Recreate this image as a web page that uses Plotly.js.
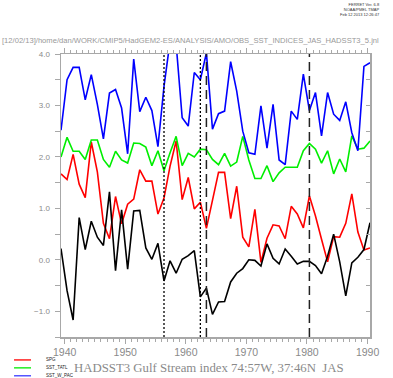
<!DOCTYPE html>
<html><head><meta charset="utf-8">
<script src="https://cdn.plot.ly/plotly-3.0.1.min.js"></script>
<style>html,body{margin:0;padding:0;background:#fff}#chart{width:393px;height:378px}</style>
</head><body><div id="chart"></div>
<script>
// Years of the JAS (Jul-Aug-Sep) seasonal values
const years = [1939,1940,1941,1942,1943,1944,1945,1946,1947,1948,1949,1950,1951,1952,1953,1954,1955,1956,1957,1958,1959,
  1960,1961,1962,1963,1964,1965,1966,1967,1968,1969,1970,1971,1972,1973,1974,1975,1976,1977,1978,1979,
  1980,1981,1982,1983,1984,1985,1986,1987,1988,1989,1990];
// Decimal-time position of each seasonal value on the time axis (season offset within the year)
const seasonOffset = 0.4;

const spg = [1.67,1.56,2.05,1.47,1.21,2.29,1.71,0.71,0.41,1.23,0.70,1.08,1.18,1.75,1.53,1.53,0.89,1.20,1.82,2.31,
  1.17,1.60,0.99,1.12,0.61,1.16,1.70,1.70,0.80,1.43,0.44,0.25,0.98,-0.05,0.42,0.68,0.66,0.41,1.04,0.89,
  0.62,1.24,0.85,0.40,-0.04,0.45,0.44,0.71,1.28,0.54,0.19,0.23];
const sstTatl = [2.00,2.38,2.11,2.11,1.95,2.33,2.33,1.95,1.80,2.11,1.94,1.88,2.27,2.26,2.19,1.83,2.12,1.73,2.08,2.40,
  1.83,2.07,2.00,2.15,2.14,1.95,1.85,2.07,1.82,1.90,2.40,1.94,1.58,1.58,1.83,1.52,1.69,1.80,1.80,1.80,
  2.12,2.26,2.15,1.88,2.12,1.67,1.96,1.71,2.41,2.15,2.17,2.31];
const sstWPac = [2.52,3.50,3.74,3.74,3.11,3.60,3.02,2.35,3.24,3.31,2.95,2.06,3.90,2.88,3.16,2.90,2.20,3.37,4.25,4.20,
  2.76,2.60,3.64,3.50,4.02,2.54,2.84,2.89,3.85,3.28,2.50,2.08,2.05,2.99,2.17,3.02,1.94,1.85,2.89,2.73,
  3.61,2.90,3.25,2.41,3.25,2.83,2.71,3.07,2.47,2.12,3.76,3.83];
const gsIndex = [0.22,-0.60,-1.17,0.82,0.20,0.75,0.44,0.28,1.32,-0.21,0.97,-0.18,0.95,0.96,0.23,0.01,0.32,-0.41,-0.02,-0.26,
  0.01,0.08,0.18,-0.72,-0.55,-1.06,-0.82,-0.81,-0.43,-0.26,-0.17,0.00,-0.01,-0.12,0.31,0.03,-0.08,0.21,0.07,-0.08,
  -0.03,-0.03,-0.11,-0.27,0.07,0.50,-0.04,-0.70,-0.06,0.05,0.20,0.72];

const dottedYears = [1956, 1962];
const dashedYears = [1963, 1980];
const xTickVals = [1940,1950,1960,1970,1980,1990];
const legendNames = ['SPG','SST_TATL','SST_W_PAC'];
const legendColors = ['#ff2020','#22ee22','#5555ff'];

const t = years.map(y => y + seasonOffset);
const axisGray = '#a8a8a8';
const textGray = '#8a8a8a';

function series(y, color) {
  return {x: t, y: y, type: 'scatter', mode: 'lines', line: {color: color, width: 1.6}, hoverinfo: 'skip'};
}
const traces = [
  series(spg, '#ff0000'),
  series(sstTatl, '#00ee00'),
  series(sstWPac, '#0000ff'),
  series(gsIndex, '#000000'),
  {x: [], y: [], yaxis: 'y2', type: 'scatter', mode: 'lines'}
];

const shapes = [];
dottedYears.forEach(y => shapes.push({type:'line', xref:'x', yref:'paper', x0:y+seasonOffset, x1:y+seasonOffset, y0:0, y1:1,
  line:{color:'#000', width:1.3, dash:'2px,2px'}}));
dashedYears.forEach(y => shapes.push({type:'line', xref:'x', yref:'paper', x0:y+seasonOffset, x1:y+seasonOffset, y0:0, y1:1,
  line:{color:'#222', width:1.5, dash:'9px,5px'}}));

const legY = [-0.081, -0.109, -0.137];
const annotations = [];
legendNames.forEach((n, i) => {
  shapes.push({type:'line', xref:'paper', yref:'paper', x0:-0.152, x1:-0.097, y0:legY[i], y1:legY[i],
    line:{color:legendColors[i], width:1.5}});
  annotations.push({xref:'paper', yref:'paper', x:-0.055, y:legY[i], xanchor:'left', yanchor:'middle',
    text:n, showarrow:false, font:{family:'Liberation Sans, Arial', size:4.5, color:'#222'}});
});
annotations.push({xref:'paper', yref:'paper', x:0.034, y:-0.111, xanchor:'left', yanchor:'middle', showarrow:false,
  text:'HADSST3 Gulf Stream index 74:57W, 37:46N\u00a0\u00a0JAS',
  font:{family:'Liberation Serif, Times New Roman, serif', size:12.8, color:textGray}});
annotations.push({xref:'paper', yref:'paper', x:-0.197, y:1.046, xanchor:'left', yanchor:'middle', showarrow:false,
  text:'[12/02/13]/home/dan/WORK/CMIP5/HadGEM2-ES/ANALYSIS/AMO/OBS_SST_INDICES_JAS_HADSST3_5.jnl',
  font:{family:'Liberation Sans, Arial', size:7.6, color:'#999'}});
annotations.push({xref:'paper', yref:'paper', x:1.04, y:1.19, xanchor:'right', yanchor:'top', showarrow:false, align:'right',
  text:'FERRET Ver. 6.8<br>NOAA/PMEL TMAP<br>Feb 12 2013 12:26:47',
  font:{family:'Liberation Sans, Arial', size:4, color:'#333'}});

const layout = {
  width: 393, height: 378,
  margin: {l: 61, r: 23, t: 54, b: 41, pad: 0},
  paper_bgcolor: '#fff', plot_bgcolor: '#fff',
  showlegend: false,
  xaxis: {
    range: [1939 + seasonOffset, 1990 + seasonOffset], tickvals: xTickVals, ticktext: xTickVals.map(String),
    ticks: 'outside', ticklen: 5, tickwidth: 1, tickcolor: axisGray,
    minor: {dtick: 1, tick0: 1940, ticks: 'outside', ticklen: 3, tickcolor: axisGray, showgrid: false},
    showline: true, linecolor: axisGray, linewidth: 1.5, mirror: 'ticks',
    showgrid: false, zeroline: false,
    tickfont: {family: 'Liberation Sans, Arial', size: 10.5, color: textGray}
  },
  yaxis: {
    range: [-1.5, 4.0], dtick: 1, tick0: 0, tickformat: '.1f',
    ticks: 'outside', ticklen: 5, tickcolor: axisGray, ticklabelstandoff: 3,
    minor: {dtick: 0.5, tick0: 0, ticks: 'outside', ticklen: 5, tickcolor: axisGray, showgrid: false},
    showline: true, linecolor: axisGray, linewidth: 1.5, mirror: true,
    showgrid: false, zeroline: false,
    tickfont: {family: 'Liberation Sans, Arial', size: 8, color: textGray}
  },
  yaxis2: {
    overlaying: 'y', side: 'right', range: [-1.5, 4.0], dtick: 0.5, tick0: 0,
    ticks: 'inside', ticklen: 4, tickcolor: axisGray, showticklabels: false,
    showline: false, showgrid: false, zeroline: false
  },
  shapes: shapes,
  annotations: annotations
};
Plotly.newPlot('chart', traces, layout, {staticPlot: true, displayModeBar: false});
</script></body></html>
